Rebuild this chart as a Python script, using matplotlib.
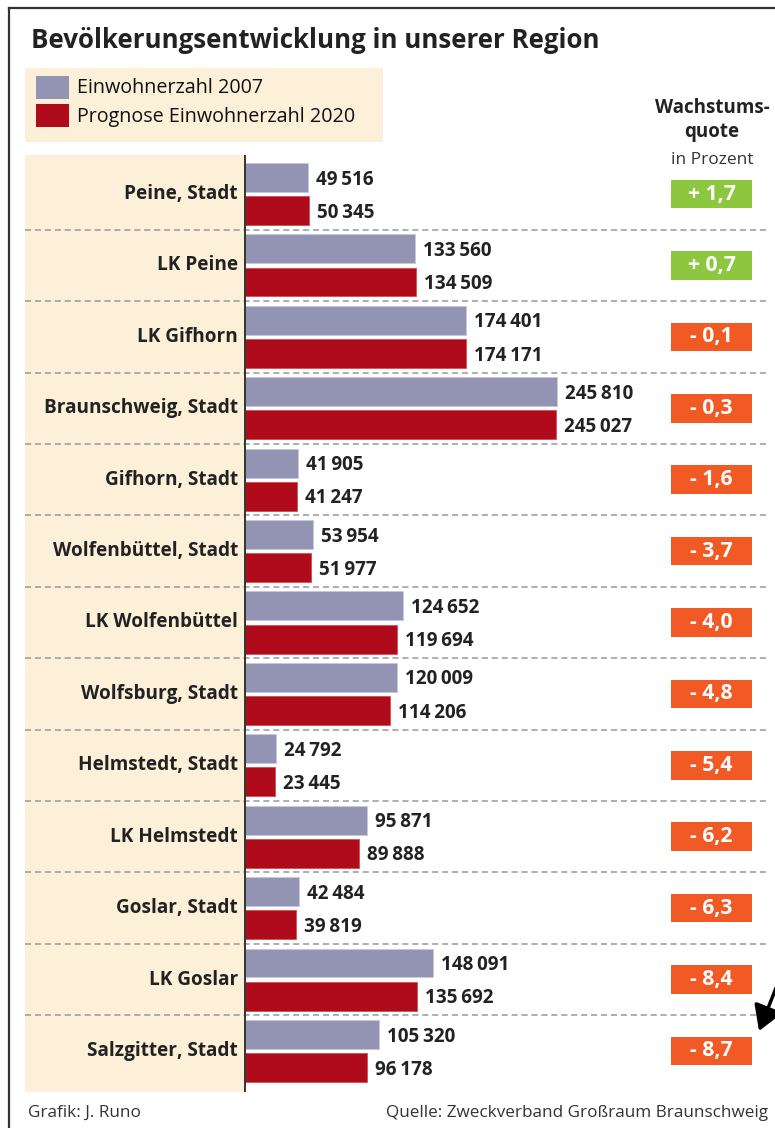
#!/usr/bin/env python
# Bevoelkerungsentwicklung - horizontal bars with growth boxes

import matplotlib
matplotlib.use('Agg')
import matplotlib.pyplot as plt
from matplotlib.patches import Rectangle, FancyArrowPatch

plt.rcParams['font.family'] = ['Open Sans', 'DejaVu Sans']

regions = ['Peine, Stadt', 'LK Peine', 'LK Gifhorn', 'Braunschweig, Stadt',
           'Gifhorn, Stadt', 'Wolfenbüttel, Stadt', 'LK Wolfenbüttel',
           'Wolfsburg, Stadt', 'Helmstedt, Stadt', 'LK Helmstedt',
           'Goslar, Stadt', 'LK Goslar', 'Salzgitter, Stadt']
pop_2007 = [49516, 133560, 174401, 245810, 41905, 53954, 124652,
            120009, 24792, 95871, 42484, 148091, 105320]
pop_2020 = [50345, 134509, 174171, 245027, 41247, 51977, 119694,
            114206, 23445, 89888, 39819, 135692, 96178]
growth = [1.7, 0.7, -0.1, -0.3, -1.6, -3.7, -4.0, -4.8, -5.4, -6.2, -6.3, -8.4, -8.7]

BEIGE = '#fdf0d9'
GREY = '#9393b3'
RED = '#b00b1a'
GREEN = '#8dc63f'
ORANGE = '#f15a24'
TXT = '#222222'

W, H = 775, 1128
fig = plt.figure(figsize=(W / 100, H / 100), dpi=100)

def px(x0, y0, x1, y1):
    # pixel box -> figure fraction rect
    return [x0 / W, 1 - y1 / H, (x1 - x0) / W, (y1 - y0) / H]

# frame lines
fig.add_artist(plt.Line2D([9 / W, 9 / W], [0, 1 - 8 / H], color='#333333', lw=1.6))
fig.add_artist(plt.Line2D([9 / W, 1], [1 - 8 / H, 1 - 8 / H], color='#333333', lw=1.6))

fig.text(31 / W, 1 - 41 / H, 'Bevölkerungsentwicklung in unserer Region',
         fontsize=18.6, fontweight='bold', color=TXT, va='center', ha='left')

# legend box
fig.add_artist(Rectangle((25 / W, 1 - 142 / H), (383 - 25) / W, (142 - 68) / H,
                         transform=fig.transFigure, color=BEIGE, lw=0))
fig.add_artist(Rectangle((36 / W, 1 - 99 / H), 33 / W, 23 / H,
                         transform=fig.transFigure, color=GREY, lw=0))
fig.add_artist(Rectangle((36 / W, 1 - 127 / H), 33 / W, 23 / H,
                         transform=fig.transFigure, color=RED, lw=0))
fig.text(77 / W, 1 - 88 / H, 'Einwohnerzahl 2007', fontsize=14.2,
         color='#111111', va='center')
fig.text(77 / W, 1 - 117 / H, 'Prognose Einwohnerzahl 2020', fontsize=14.2,
         color='#111111', va='center')

# growth column header
fig.text(712 / W, 1 - 108 / H, 'Wachstums-', fontsize=13.5, fontweight='bold',
         color=TXT, ha='center', va='center')
fig.text(712 / W, 1 - 132 / H, 'quote', fontsize=13.5, fontweight='bold',
         color=TXT, ha='center', va='center')
fig.text(712 / W, 1 - 160 / H, 'in Prozent', fontsize=12.5,
         color='#333333', ha='center', va='center')

# main axes: x in persons, 0 at pixel 245
scale = (557 - 245) / 245810.0
row = 71.4
ax = fig.add_axes(px(25, 155, 775, 1092))
ax.set_xlim(-(245 - 25) / scale, (775 - 245) / scale)
ax.set_ylim(12 + 41 / row, -39 / row)
ax.axis('off')

ax.axvspan(ax.get_xlim()[0], 0, color=BEIGE, lw=0, zorder=0)
ax.axvline(0, color='#333333', lw=1.4, zorder=3)

n = len(regions)
ys = list(range(n))
bh = 0.405
off = 0.232
ax.barh([y - off for y in ys], pop_2007, height=bh, color=GREY,
        edgecolor='#c8c8dc', lw=0.6, zorder=2)
ax.barh([y + off for y in ys], pop_2020, height=bh, color=RED,
        edgecolor='#d05050', lw=0.6, zorder=2)

def fmt(v):
    return '{:,}'.format(v).replace(',', '\u2009')

pad = 8 / scale
ytr = ax.get_yaxis_transform()
for i in range(n):
    ax.text(-7 / scale, i, regions[i], ha='right', va='center',
            fontsize=13.7, fontweight='bold', color=TXT, zorder=4)
    ax.text(pop_2007[i] + pad, i - off + 0.03, fmt(pop_2007[i]), ha='left',
            va='center', fontsize=13.6, fontweight='bold', color=TXT)
    ax.text(pop_2020[i] + pad, i + off + 0.03, fmt(pop_2020[i]), ha='left',
            va='center', fontsize=13.6, fontweight='bold', color=TXT)
    g = growth[i]
    ax.add_patch(Rectangle(((671 - 25) / 750, i - 0.2), 81 / 750, 0.4,
                           transform=ytr, color=GREEN if g > 0 else ORANGE,
                           lw=0, zorder=3))
    lab = ('+ ' if g > 0 else '- ') + ('%.1f' % abs(g)).replace('.', ',')
    ax.text((711.5 - 25) / 750, i, lab, transform=ytr, ha='center',
            va='center', fontsize=15.2, fontweight='bold', color='white',
            zorder=4)
    if i < n - 1:
        ax.plot([ax.get_xlim()[0], (767 - 245) / scale], [i + 0.5, i + 0.5],
                color='#999999', lw=1.1, ls=(0, (4, 2.5)), zorder=1)

# arrow at the last row
fig.add_artist(FancyArrowPatch(
    (776 / W, 1 - 988 / H), (759 / W, 1 - 1031 / H), transform=fig.transFigure,
    arrowstyle='-|>,head_length=0.75,head_width=0.45', mutation_scale=20,
    color='black', lw=2.5, shrinkA=0, shrinkB=0))

fig.text(28 / W, 1 - 1113 / H, 'Grafik: J. Runo', fontsize=12.3,
         color='#333333', va='center')
fig.text(768 / W, 1 - 1113 / H, 'Quelle: Zweckverband Großraum Braunschweig',
         fontsize=12.3, color='#333333', va='center', ha='right')

fig.savefig('out.png', dpi=100)
